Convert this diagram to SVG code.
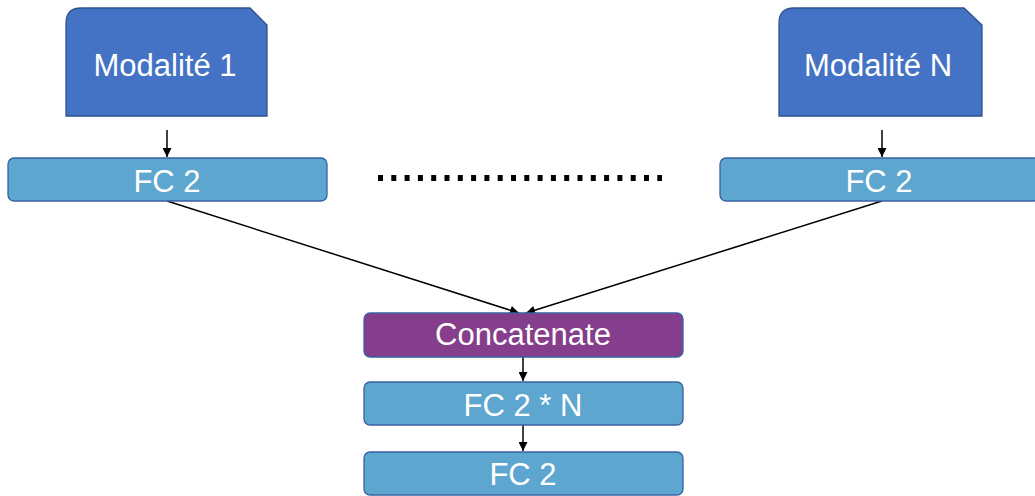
<svg xmlns="http://www.w3.org/2000/svg" width="1035" height="496" viewBox="0 0 1035 496">
<style>
.mod{fill:#4472C4;stroke:#2F528F;stroke-width:1.3}
.fc{fill:#5DA6CF;stroke:#3A62A0;stroke-width:1.3}
.cat{fill:#853E8B;stroke:#3A62A0;stroke-width:1.3}
.t{font-family:"Liberation Sans",Arial,sans-serif;font-size:31px;fill:#ffffff;text-anchor:middle}
.c{stroke:#000;stroke-width:1.5;fill:none;marker-end:url(#ah)}
</style>
<defs>
<marker id="ah" viewBox="0 0 10 10" refX="10" refY="5" markerWidth="10" markerHeight="9" markerUnits="userSpaceOnUse" orient="auto">
<path d="M0,0 L10,5 L0,10 z" fill="#000"/>
</marker>
</defs>
<rect width="1035" height="496" fill="#ffffff"/>
<g id="connectors">
<line class="c" x1="167" y1="130" x2="167" y2="157"/>
<line class="c" x1="882" y1="130" x2="882" y2="157"/>
<line class="c" x1="167" y1="201" x2="519" y2="313"/>
<line class="c" x1="882" y1="201" x2="526" y2="313"/>
<line class="c" x1="523" y1="357" x2="523" y2="381"/>
<line class="c" x1="523" y1="425" x2="523" y2="451"/>
<line x1="378" y1="178" x2="662" y2="178" stroke="#000" stroke-width="6" stroke-dasharray="5 8.3"/>
</g>
<g id="mod1">
<path class="mod" d="M81,8 L250,8 L267,25 L267,116 L66,116 L66,23 Q66,8 81,8 Z"/>
<text class="t" x="165" y="76">Modalité 1</text>
</g>
<g id="modN">
<path class="mod" d="M794,8 L964,8 L982,25 L982,116 L779,116 L779,23 Q779,8 794,8 Z"/>
<text class="t" x="878" y="76">Modalité N</text>
</g>
<g id="fc2left">
<rect class="fc" x="8" y="158" width="319" height="43" rx="6"/>
<text class="t" x="167" y="192">FC 2</text>
</g>
<g id="fc2right">
<rect class="fc" x="720" y="158" width="320" height="43" rx="6"/>
<text class="t" x="879" y="192">FC 2</text>
</g>
<g id="concat">
<rect class="cat" x="364" y="313" width="319" height="44" rx="6"/>
<text class="t" x="523" y="345">Concatenate</text>
</g>
<g id="fc2n">
<rect class="fc" x="364" y="382" width="319" height="43" rx="6"/>
<text class="t" x="523" y="416">FC 2 * N</text>
</g>
<g id="fc2bottom">
<rect class="fc" x="364" y="452" width="319" height="43" rx="6"/>
<text class="t" x="523" y="485">FC 2</text>
</g>
</svg>
